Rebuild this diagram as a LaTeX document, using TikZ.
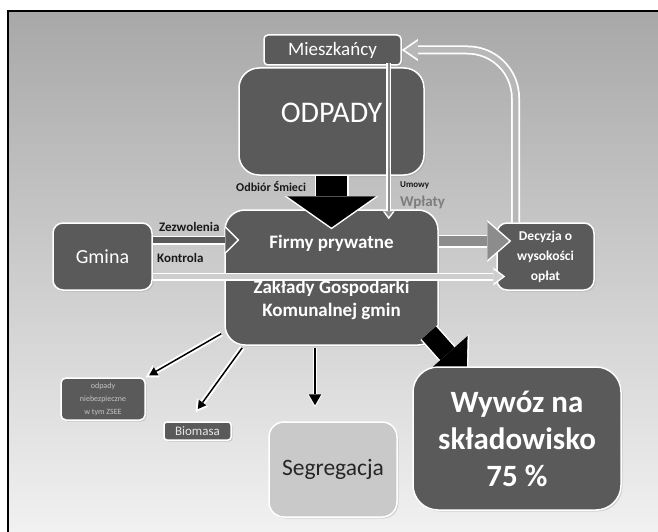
\documentclass[tikz,border=0pt]{standalone}
\usepackage{fontspec}
\setmainfont{Carlito}
\usetikzlibrary{arrows.meta, calc, shadows}
\definecolor{BoxGray}{RGB}{90,90,90}
\definecolor{LightBox}{RGB}{201,201,201}
\definecolor{BgTop}{RGB}{168,168,168}
\definecolor{BgBottom}{RGB}{241,241,241}
\definecolor{LabelGray}{RGB}{125,125,125}
\definecolor{FlowGray}{RGB}{140,140,140}
\definecolor{BackGray}{RGB}{184,184,184}
\definecolor{LineGray}{RGB}{206,206,206}

% block arrow: shaft, head length, head width, fill, outline
\tikzset{
  hollow/.code n args={5}{%
    \pgfmathsetmacro\hsA{#3/2}%
    \pgfmathsetmacro\hsS{#5/sin(atan(\hsA/#2))}%
    \pgfmathsetmacro\hsL{#2-\hsS}%
    \pgfmathsetmacro\hsW{#3*\hsL/#2}%
    \pgfmathsetmacro\hsO{#1+2*#5}%
    \tikzset{draw=#4, line width=#1pt, shorten >=\hsS pt,
      -{Triangle[length=\hsL pt, width=\hsW pt, line width=0pt]},
      preaction={draw=white, line width=\hsO pt, shorten >=0pt,
        -{Triangle[length=#2pt, width=#3pt, line width=0pt]}}}%
  }
}

\begin{document}
\begin{tikzpicture}[x=1pt, y=-1pt,
  box/.style={draw=white, line width=1.5pt, fill=BoxGray, text=white, align=center, inner sep=0pt,
    drop shadow={shadow xshift=1.5pt, shadow yshift=-1.5pt, opacity=0.25}},
  tag/.style={text=black!90, inner sep=0pt, anchor=west}]
  \useasboundingbox (0,0) rectangle (658,532);
  \shade[top color=BgTop, bottom color=BgBottom] (8,11) rectangle (658,532);
  \draw[line width=1.5pt] (8,532) -- (8,11) -- (658,11);

  % boxes
  \node[box, rounded corners=4pt, minimum width=137pt, minimum height=30pt, font=\fontsize{19}{22}\selectfont] (mieszk) at (332.5,50) {Mieszkańcy};
  \node[box, rounded corners=20pt, minimum width=185pt, minimum height=107pt] (odpady) at (331.5,121.5) {};
  \node[text=white, font=\fontsize{30}{36}\selectfont] (odpadytxt) at (331.5,113) {ODPADY};
  \node[box, rounded corners=20pt, minimum width=213pt, minimum height=135pt, font=\bfseries\fontsize{19}{23}\selectfont] (firmy) at (331.5,277.5) {Firmy prywatne\\[22pt]Zakłady Gospodarki\\Komunalnej gmin};
  \node[box, rounded corners=10pt, minimum width=99pt, minimum height=67pt, font=\fontsize{20}{24}\selectfont] (gmina) at (102.5,256.5) {Gmina};
  \node[box, rounded corners=10pt, minimum width=97pt, minimum height=67pt, font=\bfseries\fontsize{13.5}{20}\selectfont] (decyzja) at (545.5,256.5) {Decyzja o\\wysokości\\opłat};
  \node[box, rounded corners=5pt, minimum width=84pt, minimum height=42pt, text=white!65!BoxGray, font=\fontsize{8}{13}\selectfont] (niebezp) at (103,399) {odpady\\niebezpieczne\\w tym ZSEE};
  \node[box, rounded corners=3pt, minimum width=67pt, minimum height=18pt, text=white!85!BoxGray, font=\fontsize{13}{15}\selectfont] (biomasa) at (197.5,431) {Biomasa};
  \node[box, fill=LightBox, text=black!85, rounded corners=15pt, minimum width=128pt, minimum height=95pt, font=\fontsize{23.5}{28}\selectfont] (segreg) at (333,469.5) {Segregacja};

  % labels
  \node[tag, font=\bfseries\fontsize{12}{14}\selectfont] (odbior) at (236,187) {Odbiór Śmieci};
  \node[tag, font=\bfseries\fontsize{9}{11}\selectfont] (umowy) at (400,185) {Umowy};
  \node[tag, text=LabelGray, font=\bfseries\fontsize{15}{18}\selectfont] (wplaty) at (400,202) {Wpłaty};
  \node[tag, font=\bfseries\fontsize{13}{15}\selectfont] (zezw) at (159,227) {Zezwolenia};
  \node[tag, font=\bfseries\fontsize{13}{15}\selectfont] (kontrola) at (157,258) {Kontrola};

  % flows
  \draw[hollow={31}{33}{94}{black}{1.5}] (odpady.south) -- ($(firmy.north)+(0,20)$);
  \draw[hollow={2}{8}{12}{FlowGray}{1.5}] ($(mieszk.south east)+(-13,-3)$) -- ($(firmy.north east)+(-50,10)$);
  \draw[hollow={6}{14}{28}{BoxGray}{1.5}] ($(gmina.east)+(0,-16.5)$) -- ($(firmy.west)+(15,-37.5)$);
  \draw[hollow={5}{12}{18}{LineGray}{1.5}] ($(gmina.east)+(0,20)$) -- ($(decyzja.west)+(9,20)$);
  \draw[hollow={10}{24}{42}{FlowGray}{1.5}] ($(firmy.east)+(0,-36.5)$) -- ($(decyzja.west)+(15,-15.5)$);
  \draw[hollow={5.5}{16}{22}{BackGray}{1.75}, rounded corners=48pt] ($(decyzja.north)+(-30,0)$) |- (mieszk.east);
  \draw[hollow={1.5}{12}{14}{black}{2}] ($(firmy.south west)+(-3,-12)$) -- (niebezp.north east);
  \draw[hollow={1.5}{12}{14}{black}{2}] ($(firmy.south west)+(18,2)$) -- ($(biomasa.north)+(-2,-9)$);
  \draw[hollow={2}{13}{15}{black}{1}] ($(firmy.south)+(-16.5,2)$) -- ($(segreg.north)+(-18,-14)$);
  \coordinate (dump) at (468,377);
  \draw[hollow={19}{31}{58}{black}{1.5}] ($(firmy.south east)+(-10,-13)$) -- (dump);

  \node[box, rounded corners=25pt, minimum width=208pt, minimum height=143pt, font=\bfseries\fontsize{31}{37}\selectfont] (wywoz) at (517,438.5) {Wywóz na\\składowisko\\75 \%};
\end{tikzpicture}
\end{document}
